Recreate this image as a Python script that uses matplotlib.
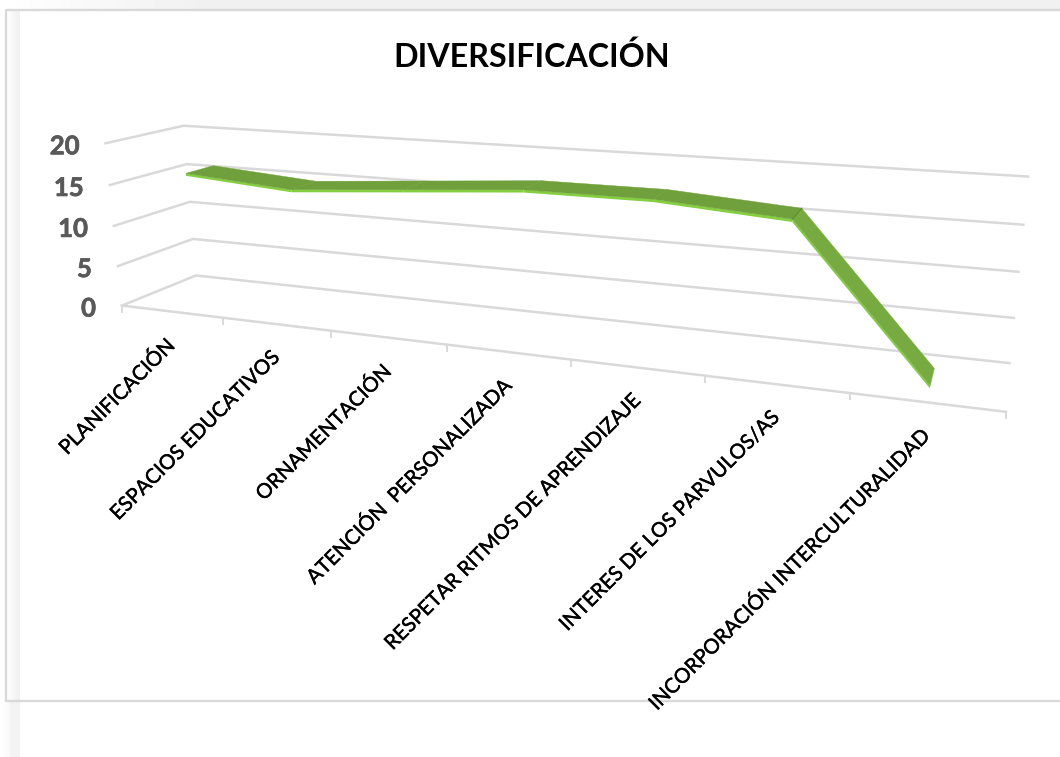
import numpy as np
import matplotlib
matplotlib.use('Agg')
import matplotlib.pyplot as plt
import matplotlib.patheffects as pe
from matplotlib.patches import Polygon, Rectangle

plt.rcParams['font.family'] = ['Lato', 'DejaVu Sans']

categories = ['PLANIFICACIÓN', 'ESPACIOS EDUCATIVOS', 'ORNAMENTACIÓN',
              'ATENCIÓN  PERSONALIZADA', 'RESPETAR RITMOS DE APRENDIZAJE',
              'INTERES DE LOS PARVULOS/AS', 'INCORPORACIÓN INTERCULTURALIDAD']
values = [16, 15, 16, 17, 17, 16, 0]
yticks = [0, 5, 10, 15, 20]
title = 'DIVERSIFICACIÓN'

# where the 3d box lands on the image: (slot, depth, value) -> pixel
anchors = [
    (0, 0, 0, 122, 305), (0, 0, 5, 118, 266), (0, 0, 10, 113, 226),
    (0, 0, 15, 110, 185), (0, 0, 20, 106, 143),
    (0, 1, 0, 196, 275), (0, 1, 5, 193, 239), (0, 1, 10, 190, 202),
    (0, 1, 15, 187, 164), (0, 1, 20, 183, 126),
    (7, 1, 0, 1009, 363), (7, 1, 5, 1014, 318), (7, 1, 10, 1019, 272),
    (7, 1, 15, 1023, 225), (7, 1, 20, 1028, 176),
    (1, 0, 0, 223, 318), (2, 0, 0, 332, 331), (3, 0, 0, 447, 345),
    (4, 0, 0, 571, 360), (5, 0, 0, 705, 376), (6, 0, 0, 850, 393),
    (7, 0, 0, 1006, 411),
]


def fit_camera(pts):
    rows = []
    for x, d, z, u, v in pts:
        rows.append([x, d, z, 1, 0, 0, 0, 0, -u * x, -u * d, -u * z, -u])
        rows.append([0, 0, 0, 0, x, d, z, 1, -v * x, -v * d, -v * z, -v])
    return np.linalg.svd(np.array(rows, float))[2][-1].reshape(3, 4)


cam = fit_camera(anchors)


def proj(x, d, z):
    p = cam @ np.array([x, d, z, 1.0])
    return p[0] / p[2], p[1] / p[2]


fig = plt.figure(figsize=(10.6, 7.57), dpi=100)
ax = fig.add_axes([0, 0, 1, 1])
ax.set_xlim(0, 1060)
ax.set_ylim(757, 0)
ax.axis('off')

# window frame around the pasted chart
ax.imshow(np.linspace(1, 0.945, 40).reshape(1, -1), cmap='gray', vmin=0, vmax=1,
          extent=(0, 200, 9, 0), aspect='auto', zorder=0)
ax.add_patch(Rectangle((200, 0), 860, 9, color='#f1f1f1', lw=0, zorder=0))
ax.imshow(np.linspace(0.985, 0.945, 12).reshape(1, -1), cmap='gray', vmin=0, vmax=1,
          extent=(8, 20, 701, 11), aspect='auto', zorder=0)
ax.imshow(np.linspace(1, 0.95, 20).reshape(1, -1), cmap='gray', vmin=0, vmax=1,
          extent=(0, 20, 757, 702), aspect='auto', zorder=0)
ax.add_patch(Rectangle((10, 702), 10, 55, color='#f3f3f3', lw=0, zorder=0))
ax.plot([1060, 6, 6, 1060], [10, 10, 701, 701], color='#d9d9d9', lw=1.7, zorder=1)
ax.set_xlim(0, 1060)
ax.set_ylim(757, 0)

grid = '#d9d9d9'
heavy = [pe.withStroke(linewidth=0.5, foreground='#595959')]
for t in yticks:
    pts = [proj(0, 0, t), proj(0, 1, t), proj(7, 1, t)]
    ax.plot(*zip(*pts), color=grid, lw=1.8, zorder=2, solid_joinstyle='miter')
    xt, yt = proj(0, 0, t)
    ax.text(xt - 26, yt + 3, str(t), ha='right', va='center', fontsize=18.5,
            fontweight='bold', color='#595959', zorder=5, path_effects=heavy)

ax.plot(*zip(proj(0, 0, 0), proj(7, 0, 0)), color=grid, lw=1.8, zorder=2)
for i in range(len(categories) + 1):
    xt, yt = proj(i, 0, 0)
    ax.plot([xt, xt], [yt, yt + 6], color=grid, lw=1.4, zorder=2)

# ribbon of the 3d line
d_front, d_back = 0.33, 0.70
drop = 0.3
for i in range(len(values) - 1):
    a, b = i + 0.5, i + 1.5
    top = [proj(a, d_front, values[i]), proj(b, d_front, values[i + 1]),
           proj(b, d_back, values[i + 1]), proj(a, d_back, values[i])]
    edge = [proj(a, d_front, values[i]), proj(b, d_front, values[i + 1]),
            proj(b, d_front, values[i + 1] - drop), proj(a, d_front, values[i] - drop)]
    face = '#77ab41' if i == len(values) - 2 else '#70a03b'
    ax.add_patch(Polygon(edge, closed=True, fc='#84cf40', ec='none', zorder=3))
    ax.add_patch(Polygon(top, closed=True, fc=face, ec=face, lw=0.3, zorder=4))

# only the sharp bend shows a dark crease
joint = [proj(5.5, d_front, values[5]), proj(5.5, d_back, values[5])]
ax.plot(*zip(*joint), color='#5f8c33', lw=0.9, zorder=4.5)

text_weight = [pe.withStroke(linewidth=0.3, foreground='black')]
for i, name in enumerate(categories):
    xt, yt = proj(i + 0.5, 0, 0)
    ax.text(xt, yt + 31, name, rotation=45, rotation_mode='anchor', ha='right',
            va='center', fontsize=14.7, color='black', zorder=6, path_effects=text_weight)

ax.text(532, 57, title, ha='center', va='center', fontsize=23.2, fontweight='bold',
        color='black', zorder=6)

fig.savefig('out.png', dpi=100)
